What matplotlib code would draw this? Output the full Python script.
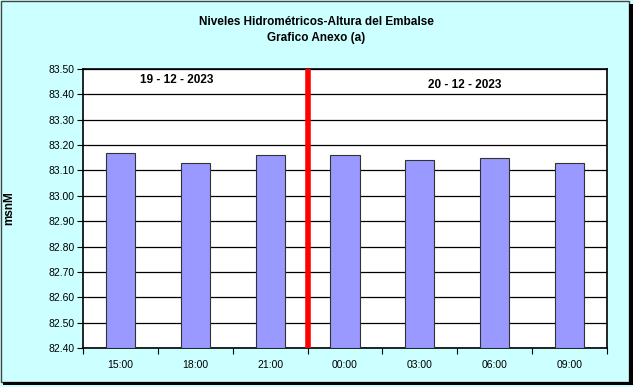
import matplotlib.pyplot as plt
from matplotlib.patches import Rectangle
import numpy as np

plt.rcParams['font.family'] = ['Liberation Sans', 'DejaVu Sans']

horas = ["15:00", "18:00", "21:00", "00:00", "03:00", "06:00", "09:00"]
niveles = [83.17, 83.13, 83.16, 83.16, 83.14, 83.15, 83.13]
fechas = ["19 - 12 - 2023", "20 - 12 - 2023"]
yticks = [82.40, 82.50, 82.60, 82.70, 82.80, 82.90, 83.00, 83.10, 83.20, 83.30, 83.40, 83.50]

fondo = '#CCFFFF'
W, H = 633, 387

fig = plt.figure(figsize=(6.33, 3.87), dpi=100, facecolor=fondo)
ax = fig.add_axes([83 / W, 1 - 348 / H, (607 - 83) / W, (348 - 69) / H])
ax.set_facecolor('white')

x = np.arange(len(horas))
ax.bar(x, [v - 82.40 for v in niveles], bottom=82.40, width=0.39,
       color='#9999FF', edgecolor='#333333', linewidth=0.8, zorder=3)

ax.set_xlim(-0.5, len(horas) - 0.5)
ax.set_ylim(82.40, 83.50)
ax.set_yticks(yticks)
ax.set_yticklabels([f"{t:.2f}" for t in yticks], fontsize=7.5)
ax.yaxis.grid(True, color='black', linewidth=0.9, zorder=1)
ax.set_axisbelow(True)

# ticks del eje x entre categorias, etiquetas en el centro
ax.set_xticks(np.arange(-0.5, len(horas)), minor=False)
ax.set_xticklabels([])
ax.set_xticks(x, minor=True)
ax.set_xticklabels(horas, minor=True, fontsize=7.5)
ax.tick_params(axis='x', which='minor', length=0, pad=9)
ax.tick_params(axis='x', which='major', length=4, direction='out')
ax.tick_params(axis='y', length=4, direction='out', pad=2)

for s in ax.spines.values():
    s.set_linewidth(1.2)
    s.set_color('black')

# separador de dias
ax.axvline(2.5, color='red', linewidth=4, zorder=4)
ax.text(0.75, 83.457, fechas[0], ha='center', va='center', fontsize=8.5, fontweight='bold')
ax.text(4.6, 83.437, fechas[1], ha='center', va='center', fontsize=8.5, fontweight='bold')

ax.set_ylabel("msnM", fontsize=8.5, fontweight='bold')
ax.yaxis.set_label_coords((15 - 83) / 524, 0.5)

fig.text(0.5, 1 - 22 / H, "Niveles Hidrométricos-Altura del Embalse", ha='center', va='center',
         fontsize=8.5, fontweight='bold')
fig.text(0.5, 1 - 38 / H, "Grafico Anexo (a)", ha='center', va='center',
         fontsize=8.5, fontweight='bold')

# borde con sombra
fig.patches.append(Rectangle((0.5 / W, 5 / H), 628 / W, (H - 5.5) / H, transform=fig.transFigure,
                             facecolor='none', edgecolor='#444444', linewidth=1.0))
fig.patches.append(Rectangle((629 / W, 2 / H), 4 / W, (H - 6) / H, transform=fig.transFigure,
                             facecolor='black', edgecolor='none'))
fig.patches.append(Rectangle((3 / W, 2 / H), (W - 3) / W, 3 / H, transform=fig.transFigure,
                             facecolor='black', edgecolor='none'))

fig.savefig("out.png", dpi=100, facecolor=fondo)
